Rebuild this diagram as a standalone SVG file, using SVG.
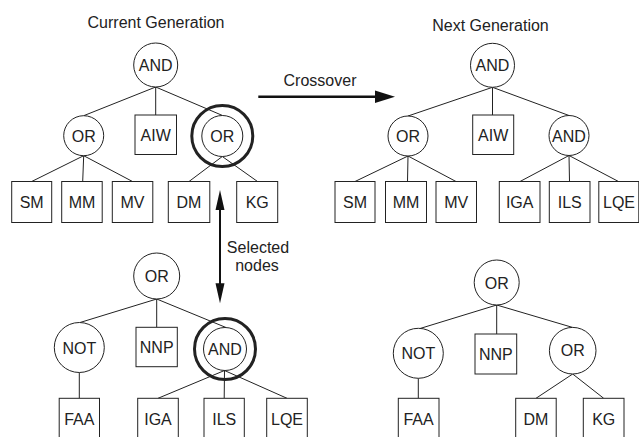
<svg xmlns="http://www.w3.org/2000/svg" width="639" height="437" viewBox="0 0 639 437">
<style>
  text { font-family: "Liberation Sans", Arial, sans-serif; font-size: 16px; fill: #222; text-anchor: middle; }
  .n { fill: #fff; stroke: #222; stroke-width: 1; }
  .sel { fill: none; stroke: #222; stroke-width: 3; }
  .c { stroke: #222; stroke-width: 1; fill: none; }
  .a { stroke: #111; fill: none; }
  .h { fill: #111; stroke: none; }
</style>
<rect width="639" height="437" fill="#fff"/>

<g id="labels">
  <text x="156" y="27.5">Current Generation</text>
  <text x="490.5" y="30.5">Next Generation</text>
  <text x="320" y="86">Crossover</text>
  <text x="258" y="253">Selected</text>
  <text x="257" y="270.5">nodes</text>
</g>

<g id="connectors">
  <!-- current generation -->
  <line class="c" x1="155.7" y1="87" x2="83.7" y2="115.7"/>
  <line class="c" x1="155.7" y1="87" x2="155.7" y2="115"/>
  <line class="c" x1="155.7" y1="87" x2="222.5" y2="115.5"/>
  <line class="c" x1="83.7" y1="155.7" x2="31.7" y2="181.5"/>
  <line class="c" x1="83.7" y1="155.7" x2="82.7" y2="181.5"/>
  <line class="c" x1="83.7" y1="155.7" x2="132.5" y2="181.5"/>
  <line class="c" x1="222.3" y1="156.5" x2="189" y2="181.5"/>
  <line class="c" x1="222.3" y1="156.5" x2="257.5" y2="181.5"/>
  <!-- next generation -->
  <line class="c" x1="492.5" y1="87.3" x2="408" y2="116"/>
  <line class="c" x1="492.5" y1="87.3" x2="492.5" y2="115"/>
  <line class="c" x1="492.5" y1="87.3" x2="569" y2="115.5"/>
  <line class="c" x1="408" y1="156" x2="355" y2="181.5"/>
  <line class="c" x1="408" y1="156" x2="407.5" y2="181.5"/>
  <line class="c" x1="408" y1="156" x2="456" y2="181.5"/>
  <line class="c" x1="569" y1="155.5" x2="520" y2="181.5"/>
  <line class="c" x1="569" y1="155.5" x2="569.5" y2="181.5"/>
  <line class="c" x1="569" y1="155.5" x2="618.5" y2="181.5"/>
  <!-- second parent -->
  <line class="c" x1="156.7" y1="299" x2="80" y2="322.5"/>
  <line class="c" x1="156.7" y1="299" x2="156.7" y2="327.3"/>
  <line class="c" x1="156.7" y1="299" x2="226" y2="327.5"/>
  <line class="c" x1="79.3" y1="372.5" x2="79.3" y2="398.3"/>
  <line class="c" x1="224.5" y1="370.5" x2="158" y2="398.3"/>
  <line class="c" x1="224.5" y1="370.5" x2="224.2" y2="398.3"/>
  <line class="c" x1="224.5" y1="370.5" x2="287" y2="398.3"/>
  <!-- second offspring -->
  <line class="c" x1="496.7" y1="305" x2="420" y2="328.5"/>
  <line class="c" x1="496.7" y1="305" x2="496.7" y2="334"/>
  <line class="c" x1="496.7" y1="305" x2="572.5" y2="327.4"/>
  <line class="c" x1="418.3" y1="378.3" x2="418.3" y2="398.3"/>
  <line class="c" x1="572.7" y1="374" x2="536" y2="398.3"/>
  <line class="c" x1="572.7" y1="374" x2="603.7" y2="398.3"/>
  <!-- crossover arrow -->
  <line class="a" stroke-width="2.5" x1="258.3" y1="96.7" x2="377" y2="96.7"/>
  <polygon class="h" points="375,90.5 395,96.7 375,103"/>
  <!-- selected nodes arrow -->
  <line class="a" stroke-width="2" x1="220" y1="205" x2="220" y2="289"/>
  <polygon class="h" points="220,190 224.5,210 215.5,210"/>
  <polygon class="h" points="220,303.3 224.5,283.3 215.5,283.3"/>
</g>

<!-- current generation -->
<g id="cur_and"><circle class="n" cx="155.7" cy="65" r="22"/><text x="155.7" y="71">AND</text></g>
<g id="cur_or1"><circle class="n" cx="83.7" cy="135.7" r="20"/><text x="83.7" y="141.7">OR</text></g>
<g id="cur_aiw"><rect class="n" x="135" y="115" width="41.5" height="39.5"/><text x="155.7" y="140.5">AIW</text></g>
<g id="cur_or2"><circle class="sel" cx="222.3" cy="136" r="30.5"/><circle class="n" cx="222.3" cy="136" r="20.5"/><text x="222.3" y="142">OR</text></g>
<g id="cur_sm"><rect class="n" x="11.7" y="181.5" width="40" height="41"/><text x="31.7" y="208">SM</text></g>
<g id="cur_mm"><rect class="n" x="61.7" y="181.5" width="40.5" height="41"/><text x="82" y="208">MM</text></g>
<g id="cur_mv"><rect class="n" x="112.3" y="181.5" width="40.5" height="41"/><text x="132.5" y="208">MV</text></g>
<g id="cur_dm"><rect class="n" x="168.3" y="181.5" width="41.5" height="41"/><text x="189" y="208">DM</text></g>
<g id="cur_kg"><rect class="n" x="236.7" y="181.5" width="41" height="41"/><text x="257.2" y="208">KG</text></g>

<!-- next generation -->
<g id="nxt_and"><circle class="n" cx="492.5" cy="65.3" r="22"/><text x="492.5" y="71.3">AND</text></g>
<g id="nxt_or"><circle class="n" cx="408" cy="136" r="20"/><text x="408" y="142">OR</text></g>
<g id="nxt_aiw"><rect class="n" x="472.7" y="115" width="41" height="39.5"/><text x="493.2" y="140.5">AIW</text></g>
<g id="nxt_and2"><circle class="n" cx="569" cy="135.5" r="20"/><text x="569" y="141.5">AND</text></g>
<g id="nxt_sm"><rect class="n" x="335" y="181.5" width="40" height="41"/><text x="355" y="208">SM</text></g>
<g id="nxt_mm"><rect class="n" x="385.5" y="181.5" width="41" height="41"/><text x="406" y="208">MM</text></g>
<g id="nxt_mv"><rect class="n" x="436" y="181.5" width="40.5" height="41"/><text x="456.2" y="208">MV</text></g>
<g id="nxt_iga"><rect class="n" x="499.3" y="181.5" width="40.7" height="41"/><text x="519.7" y="208">IGA</text></g>
<g id="nxt_ils"><rect class="n" x="549.3" y="181.5" width="40.7" height="41"/><text x="569.7" y="208">ILS</text></g>
<g id="nxt_lqe"><rect class="n" x="598.8" y="181.5" width="40" height="41"/><text x="619" y="208">LQE</text></g>

<!-- second parent -->
<g id="p2_or"><circle class="n" cx="156.7" cy="276" r="23"/><text x="156.7" y="282">OR</text></g>
<g id="p2_not"><circle class="n" cx="79.3" cy="347.5" r="25"/><text x="79.3" y="353.5">NOT</text></g>
<g id="p2_nnp"><rect class="n" x="136" y="327.3" width="41.3" height="39.4"/><text x="156.7" y="353">NNP</text></g>
<g id="p2_and"><circle class="sel" cx="225" cy="349" r="30.5"/><circle class="n" cx="225" cy="349" r="21.5"/><text x="225" y="355">AND</text></g>
<g id="p2_faa"><rect class="n" x="59.2" y="398.3" width="40.3" height="41"/><text x="79.3" y="424.8">FAA</text></g>
<g id="p2_iga"><rect class="n" x="137.7" y="398.3" width="40.6" height="41"/><text x="158" y="424.8">IGA</text></g>
<g id="p2_ils"><rect class="n" x="204" y="398.3" width="40.3" height="41"/><text x="224.2" y="424.8">ILS</text></g>
<g id="p2_lqe"><rect class="n" x="266.7" y="398.3" width="40.6" height="41"/><text x="287" y="424.8">LQE</text></g>

<!-- second offspring -->
<g id="o2_or"><circle class="n" cx="496.7" cy="282.5" r="22.5"/><text x="496.7" y="288.5">OR</text></g>
<g id="o2_not"><circle class="n" cx="418.3" cy="353.3" r="25"/><text x="418.3" y="359.3">NOT</text></g>
<g id="o2_nnp"><rect class="n" x="475" y="334" width="41.7" height="40"/><text x="495.8" y="360">NNP</text></g>
<g id="o2_or2"><circle class="n" cx="572.7" cy="350.7" r="23.3"/><text x="572.7" y="356">OR</text></g>
<g id="o2_faa"><rect class="n" x="398.3" y="398.3" width="40.7" height="41"/><text x="418.6" y="424.8">FAA</text></g>
<g id="o2_dm"><rect class="n" x="515.7" y="398.3" width="40.5" height="41"/><text x="536" y="424.8">DM</text></g>
<g id="o2_kg"><rect class="n" x="583.3" y="398.3" width="40.7" height="41"/><text x="603.7" y="424.8">KG</text></g>
</svg>
